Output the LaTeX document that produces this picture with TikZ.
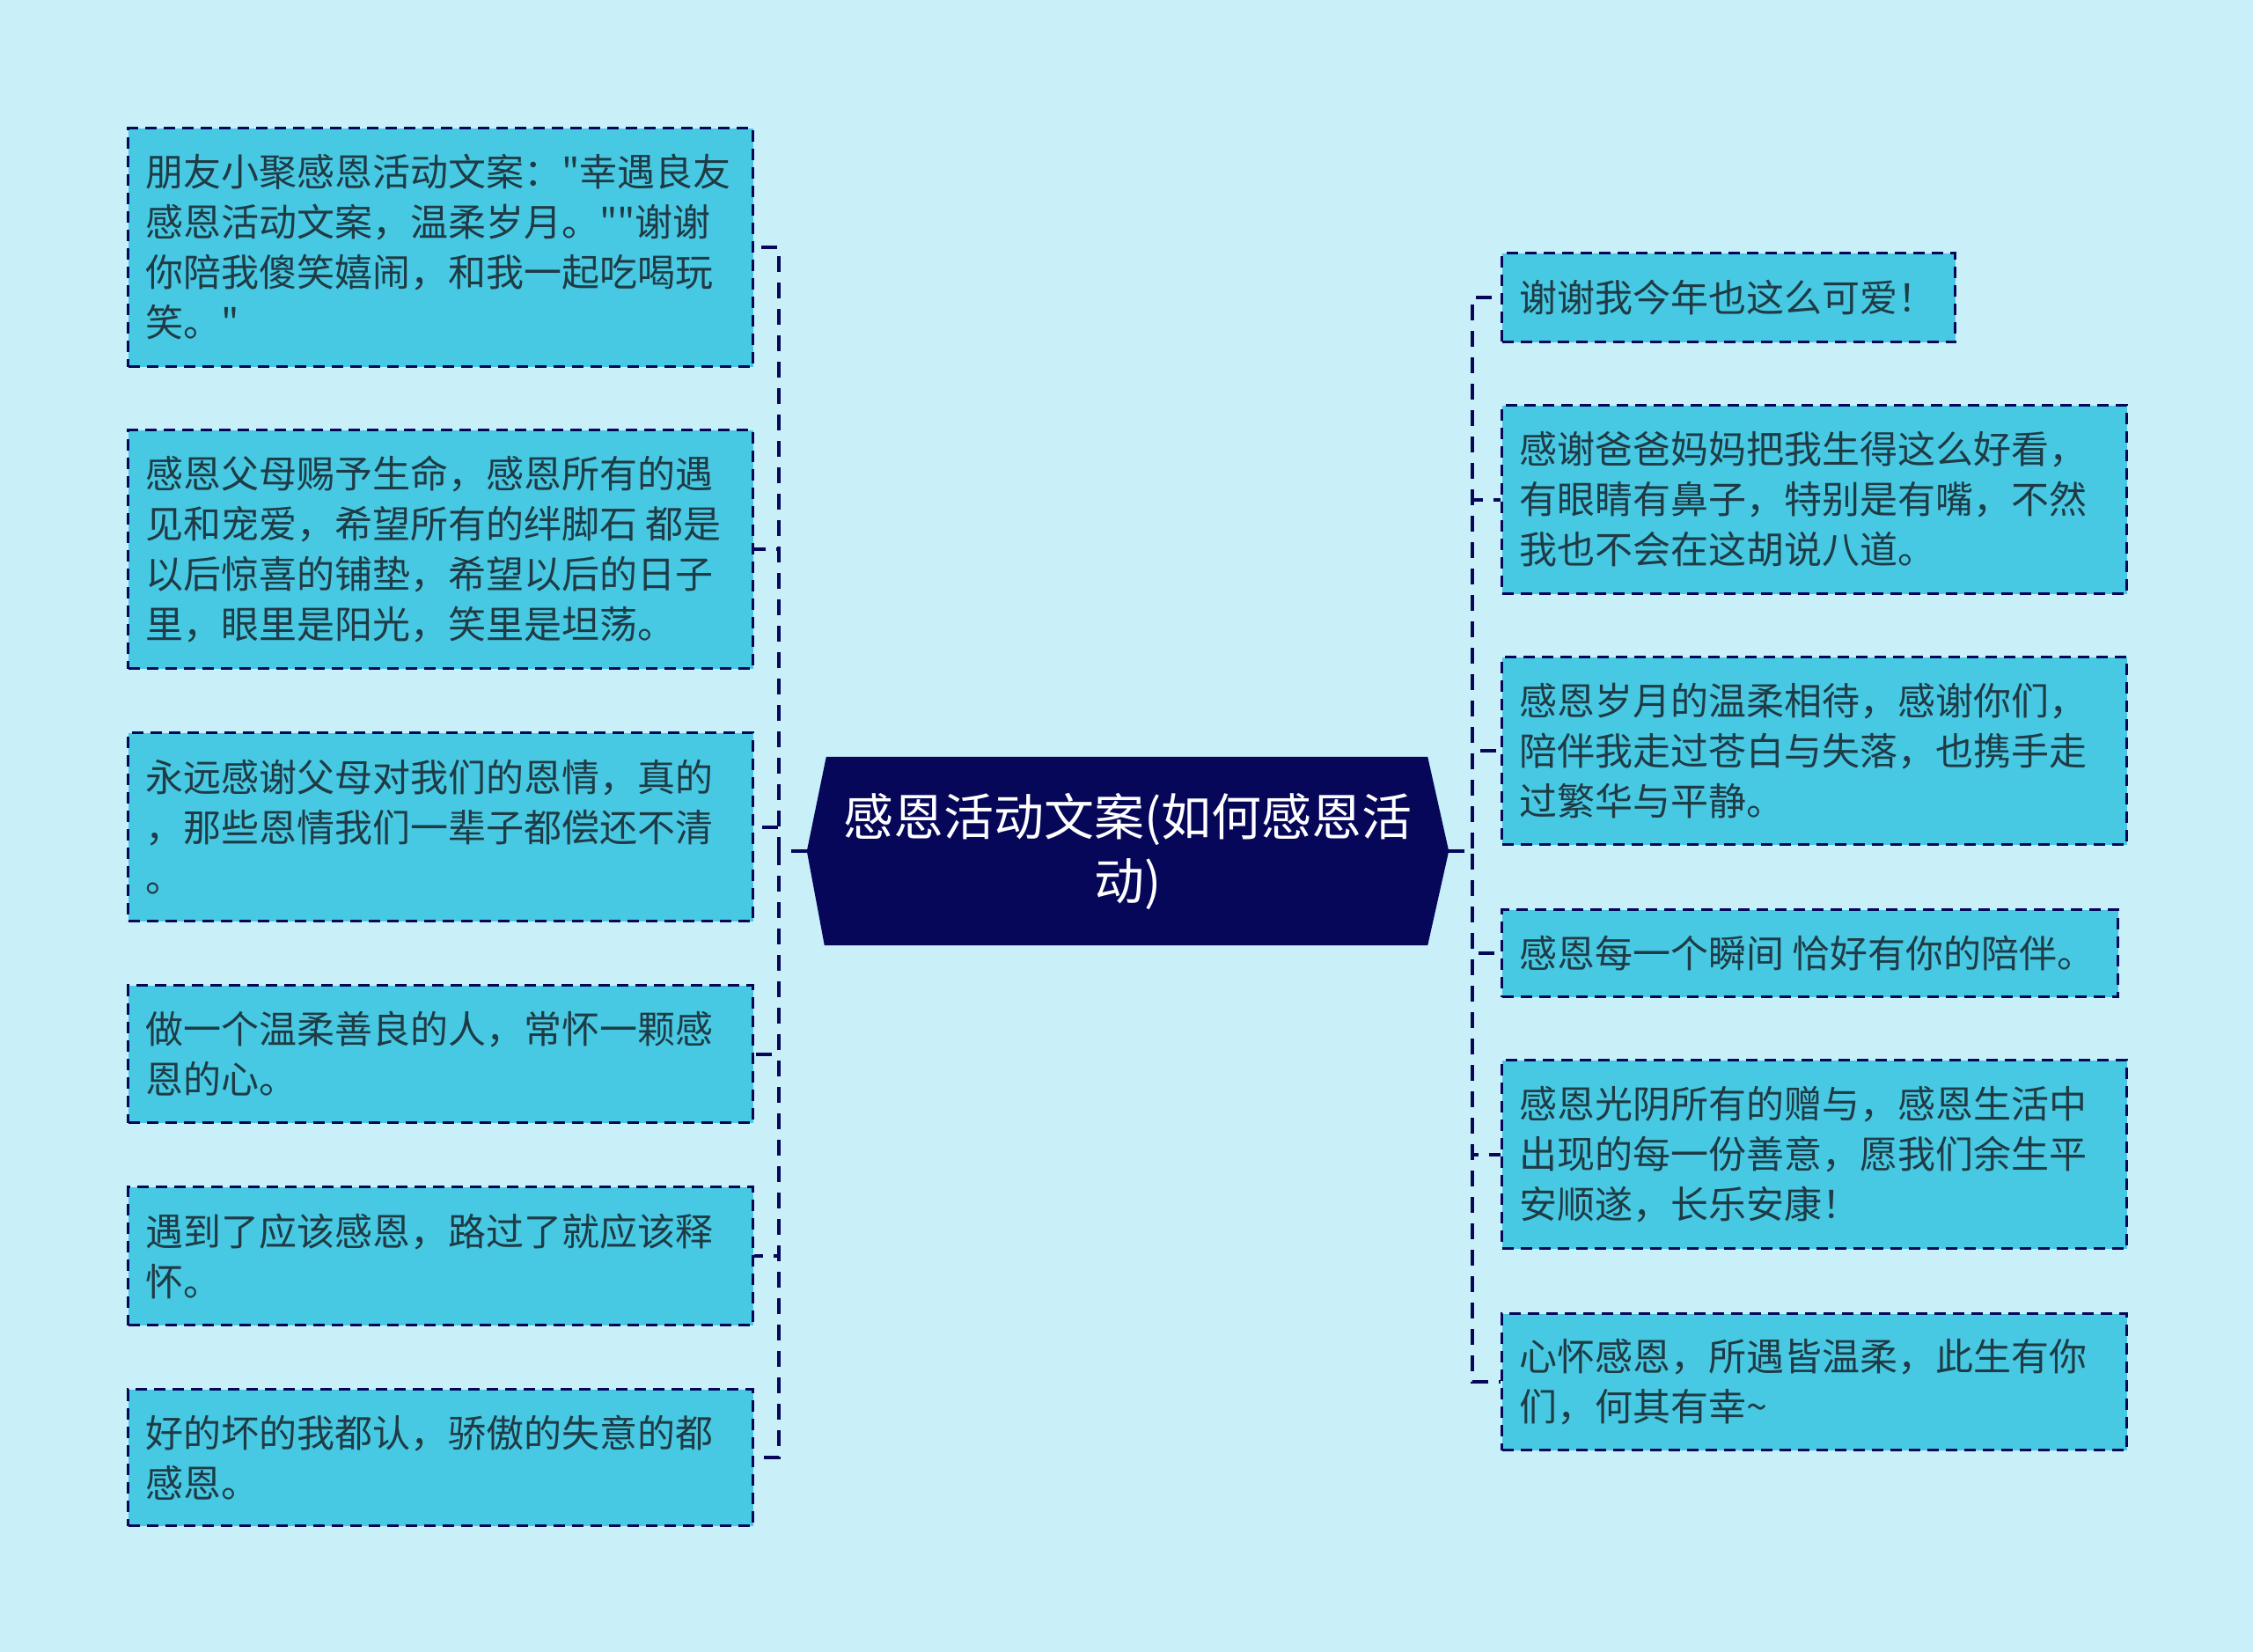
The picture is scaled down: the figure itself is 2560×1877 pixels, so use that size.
\documentclass[tikz,border=0pt]{standalone}
\usepackage{fontspec}
\setmainfont{Noto Sans CJK SC}[Ligatures=TeXOff]
\definecolor{bg}{HTML}{C9F0F8}
\definecolor{boxfill}{HTML}{48C9E3}
\definecolor{navy}{HTML}{07075A}
\definecolor{txtc}{HTML}{1F3B45}
\begin{document}
\begin{tikzpicture}[x=1pt,y=-1pt,
  leaf/.style={draw=navy, fill=boxfill, line width=3pt, dash pattern=on 13pt off 8pt, inner sep=0pt, anchor=north west},
  leaftxt/.style={inner sep=0pt, anchor=west, align=left, text=txtc, font=\fontsize{43}{57}\selectfont},
  conn/.style={draw=navy, line width=4pt, dash pattern=on 18pt off 12pt}]
\useasboundingbox (0,0) rectangle (2560,1877);
\fill[bg] (0,0) rectangle (2560,1877);

% center
\node[minimum width=729pt, minimum height=214pt, inner sep=0pt] (c) at (1281.5,967) {};
\fill[navy] ([xshift=22pt]c.north west) -- ([xshift=-24pt]c.north east) -- (c.east) -- ([xshift=-24pt]c.south east) -- ([xshift=20pt]c.south west) -- (c.west) -- cycle;
\node[text=white, align=center, font=\fontsize{57}{73}\selectfont, inner sep=0pt] (ct) at (c.center) {感恩活动文案(如何感恩活\\动)};

% left boxes
\node[leaf, minimum width=710pt, minimum height=271pt] (L1) at (144,144) {};
\node[leaf, minimum width=710pt, minimum height=271pt] (L2) at (144,487) {};
\node[leaf, minimum width=710pt, minimum height=214pt] (L3) at (144,831) {};
\node[leaf, minimum width=710pt, minimum height=156pt] (L4) at (144,1118) {};
\node[leaf, minimum width=710pt, minimum height=157pt] (L5) at (144,1347) {};
\node[leaf, minimum width=710pt, minimum height=155pt] (L6) at (144,1577) {};

\node[leaftxt] (L1t) at ([xshift=21pt]L1.west) {朋友小聚感恩活动文案："幸遇良友\\感恩活动文案，温柔岁月。""谢谢\\你陪我傻笑嬉闹，和我一起吃喝玩\\笑。"};
\node[leaftxt] (L2t) at ([xshift=21pt]L2.west) {感恩父母赐予生命，感恩所有的遇\\见和宠爱，希望所有的绊脚石 都是\\以后惊喜的铺垫，希望以后的日子\\里，眼里是阳光，笑里是坦荡。};
\node[leaftxt] (L3t) at ([xshift=21pt]L3.west) {永远感谢父母对我们的恩情，真的\\，那些恩情我们一辈子都偿还不清\\。};
\node[leaftxt] (L4t) at ([xshift=21pt]L4.west) {做一个温柔善良的人，常怀一颗感\\恩的心。};
\node[leaftxt] (L5t) at ([xshift=21pt]L5.west) {遇到了应该感恩，路过了就应该释\\怀。};
\node[leaftxt] (L6t) at ([xshift=21pt]L6.west) {好的坏的我都认，骄傲的失意的都\\感恩。};

% right boxes
\node[leaf, minimum width=515pt, minimum height=101pt] (R1) at (1705,286) {};
\node[leaf, minimum width=710pt, minimum height=214pt] (R2) at (1705,459) {};
\node[leaf, minimum width=710pt, minimum height=213pt] (R3) at (1705,745) {};
\node[leaf, minimum width=700pt, minimum height=99pt] (R4) at (1705,1032) {};
\node[leaf, minimum width=710pt, minimum height=214pt] (R5) at (1705,1203) {};
\node[leaf, minimum width=710pt, minimum height=155pt] (R6) at (1705,1491) {};

\node[leaftxt] (R1t) at ([xshift=21pt]R1.west) {谢谢我今年也这么可爱！};
\node[leaftxt] (R2t) at ([xshift=21pt]R2.west) {感谢爸爸妈妈把我生得这么好看，\\有眼睛有鼻子，特别是有嘴，不然\\我也不会在这胡说八道。};
\node[leaftxt] (R3t) at ([xshift=21pt]R3.west) {感恩岁月的温柔相待，感谢你们，\\陪伴我走过苍白与失落，也携手走\\过繁华与平静。};
\node[leaftxt] (R4t) at ([xshift=21pt]R4.west) {感恩每一个瞬间 恰好有你的陪伴。};
\node[leaftxt] (R5t) at ([xshift=21pt]R5.west) {感恩光阴所有的赠与，感恩生活中\\出现的每一份善意，愿我们余生平\\安顺遂，长乐安康！};
\node[leaftxt] (R6t) at ([xshift=21pt]R6.west) {心怀感恩，所遇皆温柔，此生有你\\们，何其有幸\textasciitilde};

% connectors
\foreach \n in {L1,L2,L3,L4,L5,L6}
  \draw[conn] (c.west) -- ++(-32,0) |- (\n.east);
\foreach \n in {R1,R2,R3,R4,R5,R6}
  \draw[conn] (c.east) -- ++(27,0) |- (\n.west);
\end{tikzpicture}
\end{document}
